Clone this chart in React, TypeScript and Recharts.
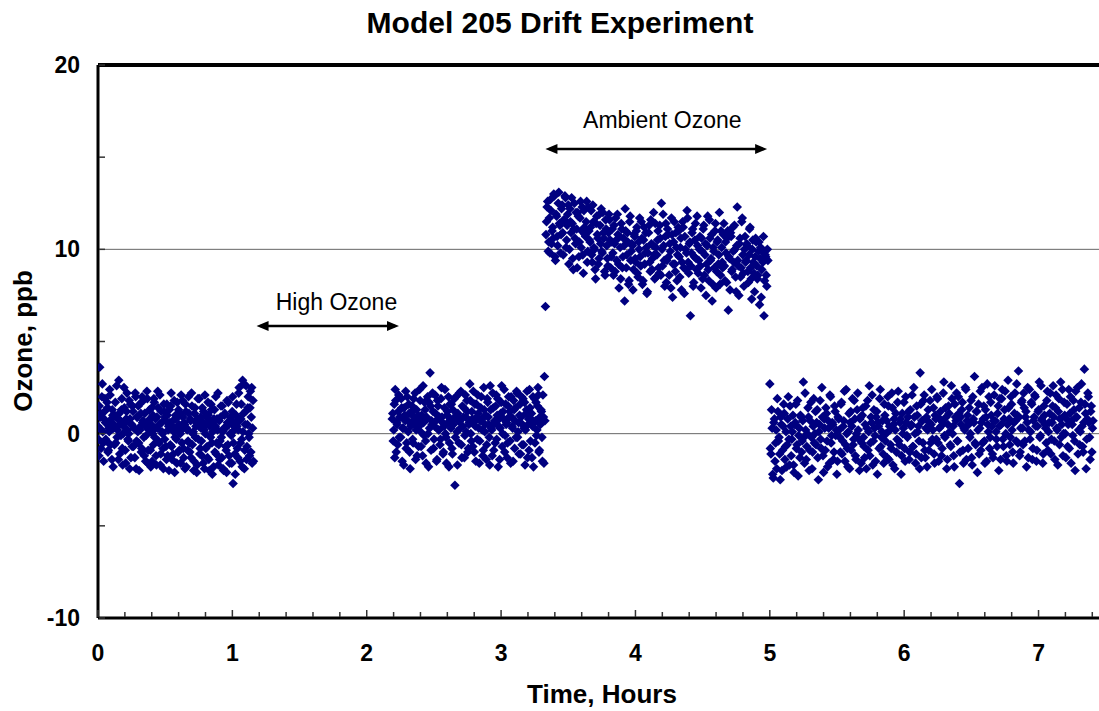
import { ScatterChart, Scatter, XAxis, YAxis, ReferenceLine, ReferenceDot } from 'recharts';

// ozone readings (ppb); two interleaved passes per test phase
const zeroAirFirstA = [
  0.4, -1.2, 3.6, 1.1, 0.2, 2.7, -0.5, 0.8, 1.9, -0.3, 0.6, 1.4, -0.9, 0.1, 2.1, 0.5, -1.4, 1.0, 0.3, -0.6,
  1.7, 0.9, -0.2, 0.4, 2.9, -1.1, 0.7, 1.3, -0.8, 0.0, 2.5, 0.6, -1.6, 1.2, 0.2, -0.4, 1.8, 0.8, -1.3, 0.5,
  1.5, -0.7, 0.3, 2.2, -1.9, 0.9, 0.1, -0.5, 1.6, 0.4, -1.0, 2.0, 0.7, -0.2, 1.1, -1.5, 0.6, 1.9, -0.9, 0.2,
  0.8, -1.8, 1.4, 0.0, -0.6, 1.7, 0.3, -1.2, 0.9, 2.3, -0.4, 0.5, -1.7, 1.2, 0.1, -0.8, 1.6, -0.3, 0.7, -1.4,
  1.0, 0.2, -2.0, 0.6, 1.5, -0.7, 0.4, -1.1, 1.8, -0.2, 0.8, -1.6, 0.3, 1.3, -0.9, 0.0, 2.1, -0.5, 0.9, -1.3,
  0.5, 1.6, -1.8, 0.2, -0.4, 1.1, -1.0, 0.7, 2.2, -0.6, 0.1, -1.5, 1.4, 0.4, -2.1, 0.8, -0.3, 1.9, -0.8, 0.3,
  -1.2, 0.6, 1.2, -1.9, 0.0, 0.9, -0.7, 1.7, -1.4, 0.4, -0.2, 1.3, -2.2, 0.5, 0.8, -1.0, 2.0, -0.5, 0.2, -1.7,
  0.7, -0.4, 1.5, -1.3, 0.1, -2.0, 1.0, 0.3, -0.9, 1.8, -0.6, 0.5, -1.6, 0.9, -0.1, 1.2, -2.7, 0.4, -1.1, 0.6,
  1.6, -0.8, 0.2, 2.5, -1.5, 0.8, -0.3, 2.9, 1.1, -1.9, 0.5, 2.6, -0.7, 1.4, 0.0, -1.2, 2.3, 0.9, -1.6, 1.8,
];
const zeroAirFirstB = [
  -0.3, 1.5, 0.9, -0.8, 2.0, 0.1, -1.5, 1.2, 0.6, -0.4, 1.7, -1.0, 0.3, 2.4, -0.6, 0.8, 1.3, -1.8, 0.5, 1.0,
  -0.5, 2.6, 0.2, -1.4, 1.1, 0.7, -0.1, 1.9, -1.7, 0.4, 1.4, -0.9, 0.8, 2.2, -0.3, 0.0, -1.9, 1.6, 0.5, -0.7,
  1.2, 0.3, -1.3, 2.0, -0.4, 0.9, 1.5, -2.0, 0.2, 1.1, -0.8, 0.6, 1.8, -1.2, 0.4, -0.1, 2.3, -1.6, 0.7, 1.3,
  -0.9, 0.5, -1.5, 1.0, 1.9, -0.2, 0.8, -1.7, 0.3, 1.4, -0.5, 2.1, -1.1, 0.6, 0.0, -1.9, 1.2, 0.9, -0.7, 1.6,
  -1.2, 0.4, 1.3, -0.6, 2.2, -1.4, 0.7, 0.1, -2.1, 1.0, -0.3, 1.7, -1.0, 0.5, 1.1, -1.6, 0.2, 1.8, -0.8, 0.6,
  -1.9, 1.2, 0.3, -0.9, 2.0, -0.5, 0.8, -1.3, 1.5, 0.0, -2.0, 1.1, -0.2, 0.6, -1.7, 1.9, 0.4, -1.1, 0.9, -0.4,
  1.4, -1.6, 0.2, 2.1, -0.8, 0.5, -1.3, 1.0, -2.0, 0.7, 1.6, -0.5, 0.1, -1.8, 1.3, 0.4, -1.1, 0.8, 2.2, -0.6,
  -1.4, 0.9, -0.2, 1.5, -1.9, 0.3, 1.1, -0.7, -2.1, 0.6, 1.7, -1.2, 0.0, 0.8, -1.6, 2.0, -0.5, 0.2, -2.2, 1.0,
  0.4, -1.3, 2.2, 0.7, -0.5, 1.6, -1.8, 0.1, 2.7, -0.9, 1.2, -1.4, 0.5, 2.0, -0.2, 1.4, -1.0, 2.5, 0.3, -1.5,
];

const afterHighA = [
  0.8, -0.4, 1.6, 2.4, -1.0, 0.5, 1.2, -0.2, 0.9, 1.9, -1.5, 0.3, 1.4, 0.7, -0.8, 2.0, 0.1, 1.1, -1.9, 0.6,
  1.5, -0.5, 0.9, 2.2, 0.2, -1.2, 1.0, 0.4, 1.8, -0.7, 0.6, 2.6, -0.1, 1.3, -1.6, 0.8, 0.0, 1.7, 3.3, -0.9,
  0.5, 1.2, -0.3, 2.1, 0.7, -1.4, 1.5, 0.2, -0.6, 1.9, 0.9, -1.1, 0.4, 2.4, -0.2, 1.0, 0.6, -1.8, 1.6, 0.3,
  -0.8, 1.3, 0.8, -2.8, 2.0, 0.1, 1.1, -0.5, 0.7, 2.3, -1.3, 0.4, 1.4, -0.1, 0.9, 1.8, -1.0, 0.5, 2.7, 0.0,
  1.2, -0.7, 0.6, 1.6, -1.5, 0.9, 2.1, 0.3, -0.4, 1.4, 0.8, -1.2, 2.5, 0.1, 1.0, -0.6, 1.7, 0.5, -1.7, 1.3,
  0.2, 2.2, -0.9, 0.7, 1.5, -0.3, 1.9, 0.4, -1.4, 1.1, 2.6, 0.0, 0.8, -1.0, 1.6, 0.6, -0.5, 2.0, 1.2, -1.6,
  0.9, 0.3, 1.8, -0.8, 1.4, 2.3, -0.2, 0.6, 1.0, -1.1, 2.0, 0.5, -0.6, 1.7, 0.2, 1.3, -1.3, 0.8, 2.4, -0.4,
  1.1, 0.4, -1.8, 1.9, 0.7, -0.1, 1.5, 2.1, -0.9, 0.5, 1.2, -1.5, 0.9, 3.1,
];
const afterHighB = [
  1.1, 0.2, -1.3, 1.8, 0.6, -0.6, 2.1, 0.9, -0.2, 1.4, 0.3, -1.7, 1.0, 2.3, -0.5, 0.7, 1.6, -1.0, 0.4, 1.2,
  -0.3, 1.9, 0.5, -1.4, 1.3, 0.8, -0.7, 2.4, 0.1, 1.0, -1.2, 0.6, 1.7, -0.4, 0.9, 2.0, -1.8, 0.3, 1.5, 0.7,
  2.2, -0.8, 0.4, 1.1, -1.5, 1.8, 0.2, 0.9, -0.3, 2.5, 0.6, -1.0, 1.4, 0.0, -1.6, 1.2, 2.0, -0.5, 0.8, 1.6,
  -1.1, 0.5, 1.9, -0.2, 1.0, -1.7, 0.7, 2.2, 0.3, -0.6, 1.5, 0.9, -1.3, 2.1, 0.1, 1.2, -0.8, 0.6, 1.8, -0.4,
  0.8, 2.3, -1.0, 0.4, 1.6, -0.3, 1.1, -1.6, 0.7, 2.0, 0.2, -0.9, 1.3, 0.5, -1.4, 1.9, 0.9, -0.2, 2.6, 0.3,
  -1.2, 1.4, 0.6, -0.5, 2.1, 1.0, -1.8, 0.8, 0.3, 1.7, -0.7, 1.2, 2.4, -0.1, 0.5, -1.3, 1.5, 0.9, -0.4, 2.0,
  0.4, -1.5, 1.3, 0.7, -0.2, 2.2, 0.1, -1.1, 1.6, 0.9, -0.6, 1.9, 0.3, -1.7, 1.1, 2.3, 0.5, -0.9, 1.4, 0.8,
  -1.3, 2.0, 0.6, -0.5, 1.7, 0.2, 2.5, -1.0, 0.9, 1.3, -0.2, 2.1, -1.6, 0.7,
];

const ambientA = [
  6.9, 11.5, 12.6, 10.4, 9.8, 12.1, 11.0, 10.6, 12.9, 9.4, 11.8, 10.2, 13.1, 11.3, 10.8, 12.4, 9.7, 11.6, 12.8, 10.5,
  11.9, 9.2, 12.2, 10.9, 11.4, 8.9, 12.5, 10.3, 11.1, 12.0, 9.6, 11.7, 10.1, 12.3, 8.7, 11.2, 10.7, 12.6, 9.9, 11.0,
  10.4, 12.1, 9.3, 11.5, 10.0, 8.4, 11.8, 10.6, 9.5, 11.3, 12.2, 9.8, 10.9, 8.8, 11.6, 10.2, 9.1, 11.9, 10.5, 9.6,
  11.1, 8.6, 10.3, 11.7, 9.4, 10.8, 7.9, 10.1, 11.4, 9.0, 10.6, 7.2, 11.0, 9.7, 10.4, 8.3, 11.8, 9.9, 10.2, 8.9,
  10.7, 9.3, 11.2, 8.5, 10.0, 9.6, 11.5, 8.1, 10.5, 9.2, 10.9, 7.6, 9.8, 11.3, 8.8, 10.3, 9.5, 12.0, 8.4, 10.1,
  9.7, 11.0, 8.7, 10.6, 12.5, 9.1, 10.2, 8.0, 11.4, 9.4, 10.8, 8.6, 9.9, 11.7, 7.4, 10.4, 9.2, 10.9, 8.3, 11.2,
  9.6, 10.1, 7.8, 11.5, 9.0, 10.7, 8.9, 12.1, 9.3, 10.3, 6.4, 9.8, 11.1, 8.2, 10.5, 9.5, 11.8, 8.7, 10.0, 9.1,
  10.6, 8.4, 11.3, 9.7, 7.5, 10.2, 8.9, 11.6, 9.4, 10.8, 8.1, 9.9, 11.0, 7.9, 10.4, 9.2, 12.0, 8.6, 10.1, 9.0,
  11.4, 8.3, 9.8, 10.6, 6.7, 9.5, 10.9, 8.8, 11.2, 9.3, 10.0, 7.7, 12.3, 9.1, 10.3, 8.5, 11.5, 9.7, 8.0, 10.7,
  9.4, 10.2, 8.2, 11.1, 9.0, 7.3, 10.5, 8.7, 9.6, 10.4, 8.4, 9.9, 7.0, 10.1, 8.9, 9.3, 6.4, 9.7, 8.6, 10.0,
];
const ambientB = [
  10.8, 12.3, 9.9, 11.7, 12.7, 10.3, 11.2, 13.0, 9.6, 11.9, 10.7, 12.5, 11.4, 9.8, 12.2, 10.9, 11.6, 12.9, 10.1, 11.3,
  12.4, 10.0, 11.5, 12.8, 9.5, 11.1, 10.6, 12.0, 9.0, 11.8, 10.4, 12.6, 11.0, 9.7, 12.1, 10.8, 11.5, 9.3, 12.3, 10.5,
  11.2, 9.7, 12.4, 10.1, 8.9, 11.4, 10.8, 9.2, 11.9, 10.3, 9.9, 12.0, 10.6, 8.6, 11.1, 9.5, 10.9, 11.6, 9.0, 10.4,
  9.8, 11.3, 8.8, 10.5, 11.9, 9.2, 10.7, 8.4, 11.1, 9.6, 10.2, 12.2, 9.0, 10.9, 8.1, 11.5, 9.4, 10.3, 7.8, 10.8,
  9.5, 11.0, 8.7, 10.4, 11.7, 9.1, 10.6, 8.3, 11.2, 9.8, 10.1, 7.7, 10.9, 9.3, 11.6, 8.9, 10.2, 9.7, 11.4, 8.5,
  10.5, 9.0, 11.3, 8.6, 10.0, 11.9, 9.4, 10.7, 8.2, 11.1, 9.6, 10.3, 7.9, 10.8, 9.2, 11.5, 8.8, 10.1, 9.7, 11.0,
  8.5, 10.6, 9.3, 11.2, 7.6, 10.0, 9.8, 11.7, 8.7, 10.4, 9.1, 10.9, 8.0, 9.6, 11.4, 8.9, 10.2, 9.4, 10.7, 7.9,
  9.9, 11.1, 8.6, 10.3, 9.2, 11.8, 8.3, 10.6, 9.5, 7.2, 10.1, 9.0, 11.4, 8.8, 10.5, 9.7, 8.1, 11.0, 9.3, 10.8,
  9.1, 10.4, 8.2, 11.0, 9.6, 7.8, 10.7, 8.9, 9.9, 11.3, 8.5, 10.2, 9.4, 7.5, 10.6, 9.0, 11.7, 8.7, 10.0, 9.3,
  10.3, 8.8, 9.7, 11.2, 8.4, 10.0, 9.3, 7.7, 10.6, 9.1, 8.6, 10.4, 9.5, 7.4, 9.9, 10.7, 8.3, 9.6, 8.0, 9.4,
];

const zeroAirLastA = [
  2.7, -1.1, 0.3, -2.4, 0.8, -0.5, -1.9, 1.2, -0.2, -2.5, 0.5, -0.9, 1.6, -1.4, 0.1, -0.6, 2.0, -1.7, 0.4, -0.3,
  1.0, -2.1, 0.6, -0.8, 1.8, -0.1, -1.3, 0.9, -0.4, 2.8, -1.6, 0.2, -0.7, 1.4, -2.0, 0.7, -0.2, -1.0, 1.9, 0.0,
  -0.6, 1.3, -2.5, 0.5, -0.3, 2.5, -1.2, 0.8, -0.9, 1.1, -1.8, 0.3, 2.1, -0.5, 0.6, -1.4, 1.5, -0.1, -2.2, 0.9,
  0.2, -1.0, 1.7, -0.4, 0.7, -1.5, 2.4, -0.8, 0.1, -1.9, 1.2, 0.4, -0.6, 1.8, -1.2, 0.0, 2.2, -0.3, 0.8, -1.6,
  1.0, -0.2, -1.3, 1.5, 0.3, -0.9, 2.6, -0.5, 0.6, -1.7, 1.3, -0.1, 0.9, -2.2, 0.4, 1.9, -0.7, 0.1, -1.1, 1.6,
  -0.4, 0.7, 2.0, -1.4, 0.2, -0.8, 1.4, 0.5, -1.9, 1.1, -0.3, 2.3, -0.6, 0.8, -1.2, 0.0, 1.7, -1.5, 0.6, -0.2,
  1.2, -1.0, 0.4, 2.1, -0.7, 0.9, -1.6, 1.5, 0.1, -0.4, 3.3, -1.3, 0.7, 1.8, -0.9, 0.3, -1.8, 1.3, 0.6, -0.5,
  2.4, 0.2, -1.1, 1.0, -0.3, 1.9, -1.5, 0.8, 0.4, -0.8, 2.2, -0.1, 1.4, -1.9, 0.5, 1.1, -0.6, 2.6, 0.0, -1.2,
  1.6, 0.7, -0.4, 2.0, -2.7, 0.9, 1.3, -0.9, 0.3, 2.5, -1.4, 1.0, 0.5, -0.2, 1.8, -1.7, 0.8, 3.1, -0.6, 1.2,
  0.2, -1.1, 2.3, 0.6, -0.5, 1.5, -1.6, 0.9, 2.7, 0.1, -0.8, 1.7, 0.4, -1.3, 2.1, 0.7, -0.3, 1.1, -2.0, 1.9,
  0.5, 2.4, -0.7, 1.3, 0.0, -1.5, 2.9, 0.8, -0.2, 1.6, -1.0, 0.6, 2.2, -0.4, 1.0, 3.4, -1.2, 0.3, 1.8, -0.6,
  1.4, 0.9, -1.8, 2.5, 0.2, -0.3, 1.7, -1.4, 0.7, 2.1, 0.4, -0.9, 1.2, 2.8, -0.1, 0.8, -1.6, 1.5, 0.5, -0.5,
  2.3, 0.1, 1.1, -1.1, 0.6, 2.6, -0.4, 1.4, 0.3, -1.7, 1.9, 0.8, -0.2, 2.4, 0.0, 1.0, -1.3, 1.6, 0.5, -0.8,
  2.0, 0.7, -0.1, 1.3, -2.0, 0.9, 2.5, 0.2, -0.6, 1.7, 0.4, -1.0, 3.5, 1.1, -0.3, 2.2, 0.6, -1.4, 1.5, 0.3,
];
const zeroAirLastB = [
  -0.8, 1.3, -2.2, 0.6, -1.5, 0.2, 1.9, -0.4, -1.1, 0.9, -2.0, 0.4, 1.1, -0.7, -1.8, 0.8, -0.3, 1.5, -1.2, 0.1,
  -1.7, 0.5, 1.6, -0.6, -2.3, 0.3, 1.0, -1.0, 0.7, -0.2, 2.2, -1.4, 0.0, 0.9, -0.9, 1.7, -1.9, 0.4, -0.5, 1.2,
  0.6, -1.3, 0.1, 1.8, -0.8, 0.9, -2.1, 0.3, 1.4, -0.4, 0.7, -1.6, 2.0, -0.1, 0.5, -1.0, 1.2, 0.2, -1.5, 0.8,
  -0.2, 1.6, -1.1, 0.4, 2.3, -0.6, 0.0, -1.8, 1.1, 0.6, -0.9, 1.9, -0.3, 0.8, -1.4, 1.3, 0.2, -2.0, 0.9, -0.5,
  1.4, -0.7, 0.5, -1.9, 1.8, 0.1, -1.2, 0.9, 2.1, -0.4, 0.3, -1.5, 1.2, 0.6, -0.8, 2.4, -0.2, 0.7, -1.6, 1.0,
  0.0, -1.3, 1.5, 0.4, -0.6, 2.2, -1.7, 0.8, 0.2, -1.0, 1.7, -0.4, 0.6, -2.2, 1.1, 0.3, -0.8, 2.0, -0.1, 0.9,
  -1.4, 1.3, 0.5, -0.7, 2.5, 0.0, -1.1, 1.0, 0.4, -1.9, 1.6, 0.7, -0.5, 2.1, -1.3, 0.9, 0.2, -0.9, 1.8, 0.5,
  -0.3, 1.4, -1.6, 0.8, 2.0, -0.5, 0.3, 1.2, -1.2, 0.6, 2.8, -0.2, 0.9, -1.4, 1.5, 0.1, -0.7, 1.9, 0.4, -1.8,
  0.9, 2.2, -0.4, 1.1, -1.0, 0.5, 1.7, -1.6, 0.2, 2.4, 0.7, -0.8, 1.4, 0.0, -1.3, 2.0, 0.6, -0.5, 1.2, -2.1,
  1.6, 0.3, -0.9, 2.5, 0.8, -0.4, 1.3, -1.5, 0.5, 2.0, -0.2, 1.0, -1.1, 0.7, 2.6, 0.1, -0.7, 1.5, 0.4, -1.4,
  1.9, -0.3, 0.8, 2.3, -1.2, 0.5, 1.4, -0.6, 2.0, 0.2, -1.6, 1.1, 0.7, 2.7, -0.5, 0.9, -1.0, 1.7, 0.3, 2.2,
  -0.4, 1.2, 0.6, -1.3, 2.4, 0.1, 1.6, -0.8, 0.9, 2.0, -1.5, 0.4, 1.3, -0.2, 2.6, 0.7, -1.1, 1.0, 0.3, 1.8,
  -0.9, 0.6, 2.2, -0.3, 1.5, 0.9, -1.4, 2.1, 0.2, 1.2, -0.6, 2.8, 0.5, -1.2, 1.7, 0.0, 0.8, -0.7, 2.4, 1.1,
  -1.6, 0.5, 1.8, -0.4, 2.3, 0.9, -1.1, 1.4, 0.1, 2.7, -0.7, 0.6, 1.6, -1.9, 0.8, 2.0, -0.2, 1.2, -1.0, 0.7,
];

// start / end time (hours) of each logged phase
const phases = [
  { start: 0.0, end: 1.16, a: zeroAirFirstA, b: zeroAirFirstB },
  { start: 2.19, end: 3.33, a: afterHighA, b: afterHighB },
  { start: 3.33, end: 4.99, a: ambientA, b: ambientB },
  { start: 5.0, end: 7.41, a: zeroAirLastA, b: zeroAirLastB },
];

const xTicks = [
  0, 0.2, 0.4, 0.6, 0.8, 1, 1.2, 1.4, 1.6, 1.8, 2, 2.2, 2.4, 2.6, 2.8, 3, 3.2, 3.4, 3.6, 3.8,
  4, 4.2, 4.4, 4.6, 4.8, 5, 5.2, 5.4, 5.6, 5.8, 6, 6.2, 6.4, 6.6, 6.8, 7, 7.2, 7.4,
];
const yTicks = [-10, -5, 0, 5, 10, 15, 20];
const yTickLabels = ['-10', '', '0', '', '10', '', '20'];

const points = phases.flatMap((p) => {
  const step = (p.end - p.start) / p.a.length;
  return [
    ...p.a.map((v, i) => ({ time: p.start + i * step, ozone: v })),
    ...p.b.map((v, i) => ({ time: p.start + (i + 0.5) * step, ozone: v })),
  ];
});

const FONT = '"Liberation Sans", Arial, sans-serif';

const XTick = (props: any) => {
  const { x, y, payload } = props;
  const v = payload.value;
  const major = Math.abs(v - Math.round(v)) < 0.001;
  return (
    <g>
      <line x1={x} y1={y - 1} x2={x} y2={y - (major ? 8 : 6)} stroke="#333" strokeWidth={1.5} />
      {major && (
        <text x={x} y={y + 43} textAnchor="middle" fontFamily={FONT} fontWeight="bold" fontSize={23} fill="#000">
          {Math.round(v)}
        </text>
      )}
    </g>
  );
};

const YTick = (props: any) => {
  const { x, y, index } = props;
  return (
    <g>
      <line x1={x + 1} y1={y} x2={x + 7} y2={y} stroke="#333" strokeWidth={1.5} />
      <text x={x - 18} y={y + 8} textAnchor="end" fontFamily={FONT} fontWeight="bold" fontSize={23} fill="#000">
        {yTickLabels[index]}
      </text>
    </g>
  );
};

const Diamond = (props: any) => {
  const { cx, cy } = props;
  const r = 4.8;
  return <path d={`M${cx},${cy - r}L${cx + r},${cy}L${cx},${cy + r}L${cx - r},${cy}Z`} fill="#000080" />;
};

const DoubleArrow = (props: any) => {
  const { x1, y1, x2, y2 } = props;
  const len = 12;
  const half = 5;
  return (
    <g>
      <line x1={x1 + 4} y1={y1} x2={x2 - 4} y2={y2} stroke="#000" strokeWidth={2.5} />
      <polygon points={`${x1},${y1} ${x1 + len},${y1 - half} ${x1 + len},${y1 + half}`} fill="#000" />
      <polygon points={`${x2},${y2} ${x2 - len},${y2 - half} ${x2 - len},${y2 + half}`} fill="#000" />
    </g>
  );
};

const note = (text: string) => (props: any) => (
  <text x={props.cx} y={props.cy} textAnchor="middle" fontFamily={FONT} fontSize={23} fill="#000">
    {text}
  </text>
);

export default function App() {
  return (
    <div style={{ position: 'absolute', left: 0, top: 0, width: 1099, height: 711, background: '#fff' }}>
      <ScatterChart width={1099} height={711} margin={{ top: 65, right: 0, bottom: 63, left: 38 }}>
        <XAxis
          type="number"
          dataKey="time"
          domain={[0, 7.45]}
          ticks={xTicks}
          interval={0}
          tickSize={0}
          tickMargin={0}
          tick={<XTick />}
          axisLine={{ stroke: '#000', strokeWidth: 3 }}
          allowDataOverflow
        />
        <YAxis
          type="number"
          dataKey="ozone"
          domain={[-10, 20]}
          ticks={yTicks}
          interval={0}
          tickSize={0}
          tickMargin={0}
          tick={<YTick />}
          axisLine={{ stroke: '#000', strokeWidth: 3 }}
          allowDataOverflow
        />
        <ReferenceLine y={0} stroke="#666" strokeWidth={1} />
        <ReferenceLine y={10} stroke="#666" strokeWidth={1} />
        <ReferenceLine y={20} stroke="#000" strokeWidth={4} />
        <Scatter data={points} shape={<Diamond />} isAnimationActive={false} />
        <ReferenceLine segment={[{ x: 3.33, y: 15.44 }, { x: 4.98, y: 15.44 }]} shape={<DoubleArrow />} />
        <ReferenceLine segment={[{ x: 1.18, y: 5.84 }, { x: 2.24, y: 5.84 }]} shape={<DoubleArrow />} />
        <ReferenceDot x={4.2} y={16.58} r={0} shape={note('Ambient Ozone')} />
        <ReferenceDot x={1.775} y={6.71} r={0} shape={note('High Ozone')} />
      </ScatterChart>
      <svg width={1099} height={711} style={{ position: 'absolute', left: 0, top: 0, pointerEvents: 'none' }}>
        <text x={560} y={33} textAnchor="middle" fontFamily={FONT} fontWeight="bold" fontSize={30} fill="#000">
          Model 205 Drift Experiment
        </text>
        <text x={602} y={703} textAnchor="middle" fontFamily={FONT} fontWeight="bold" fontSize={26} fill="#000">
          Time, Hours
        </text>
        <text
          transform="translate(32,341) rotate(-90)"
          textAnchor="middle"
          fontFamily={FONT}
          fontWeight="bold"
          fontSize={26}
          fill="#000"
        >
          Ozone, ppb
        </text>
      </svg>
    </div>
  );
}
